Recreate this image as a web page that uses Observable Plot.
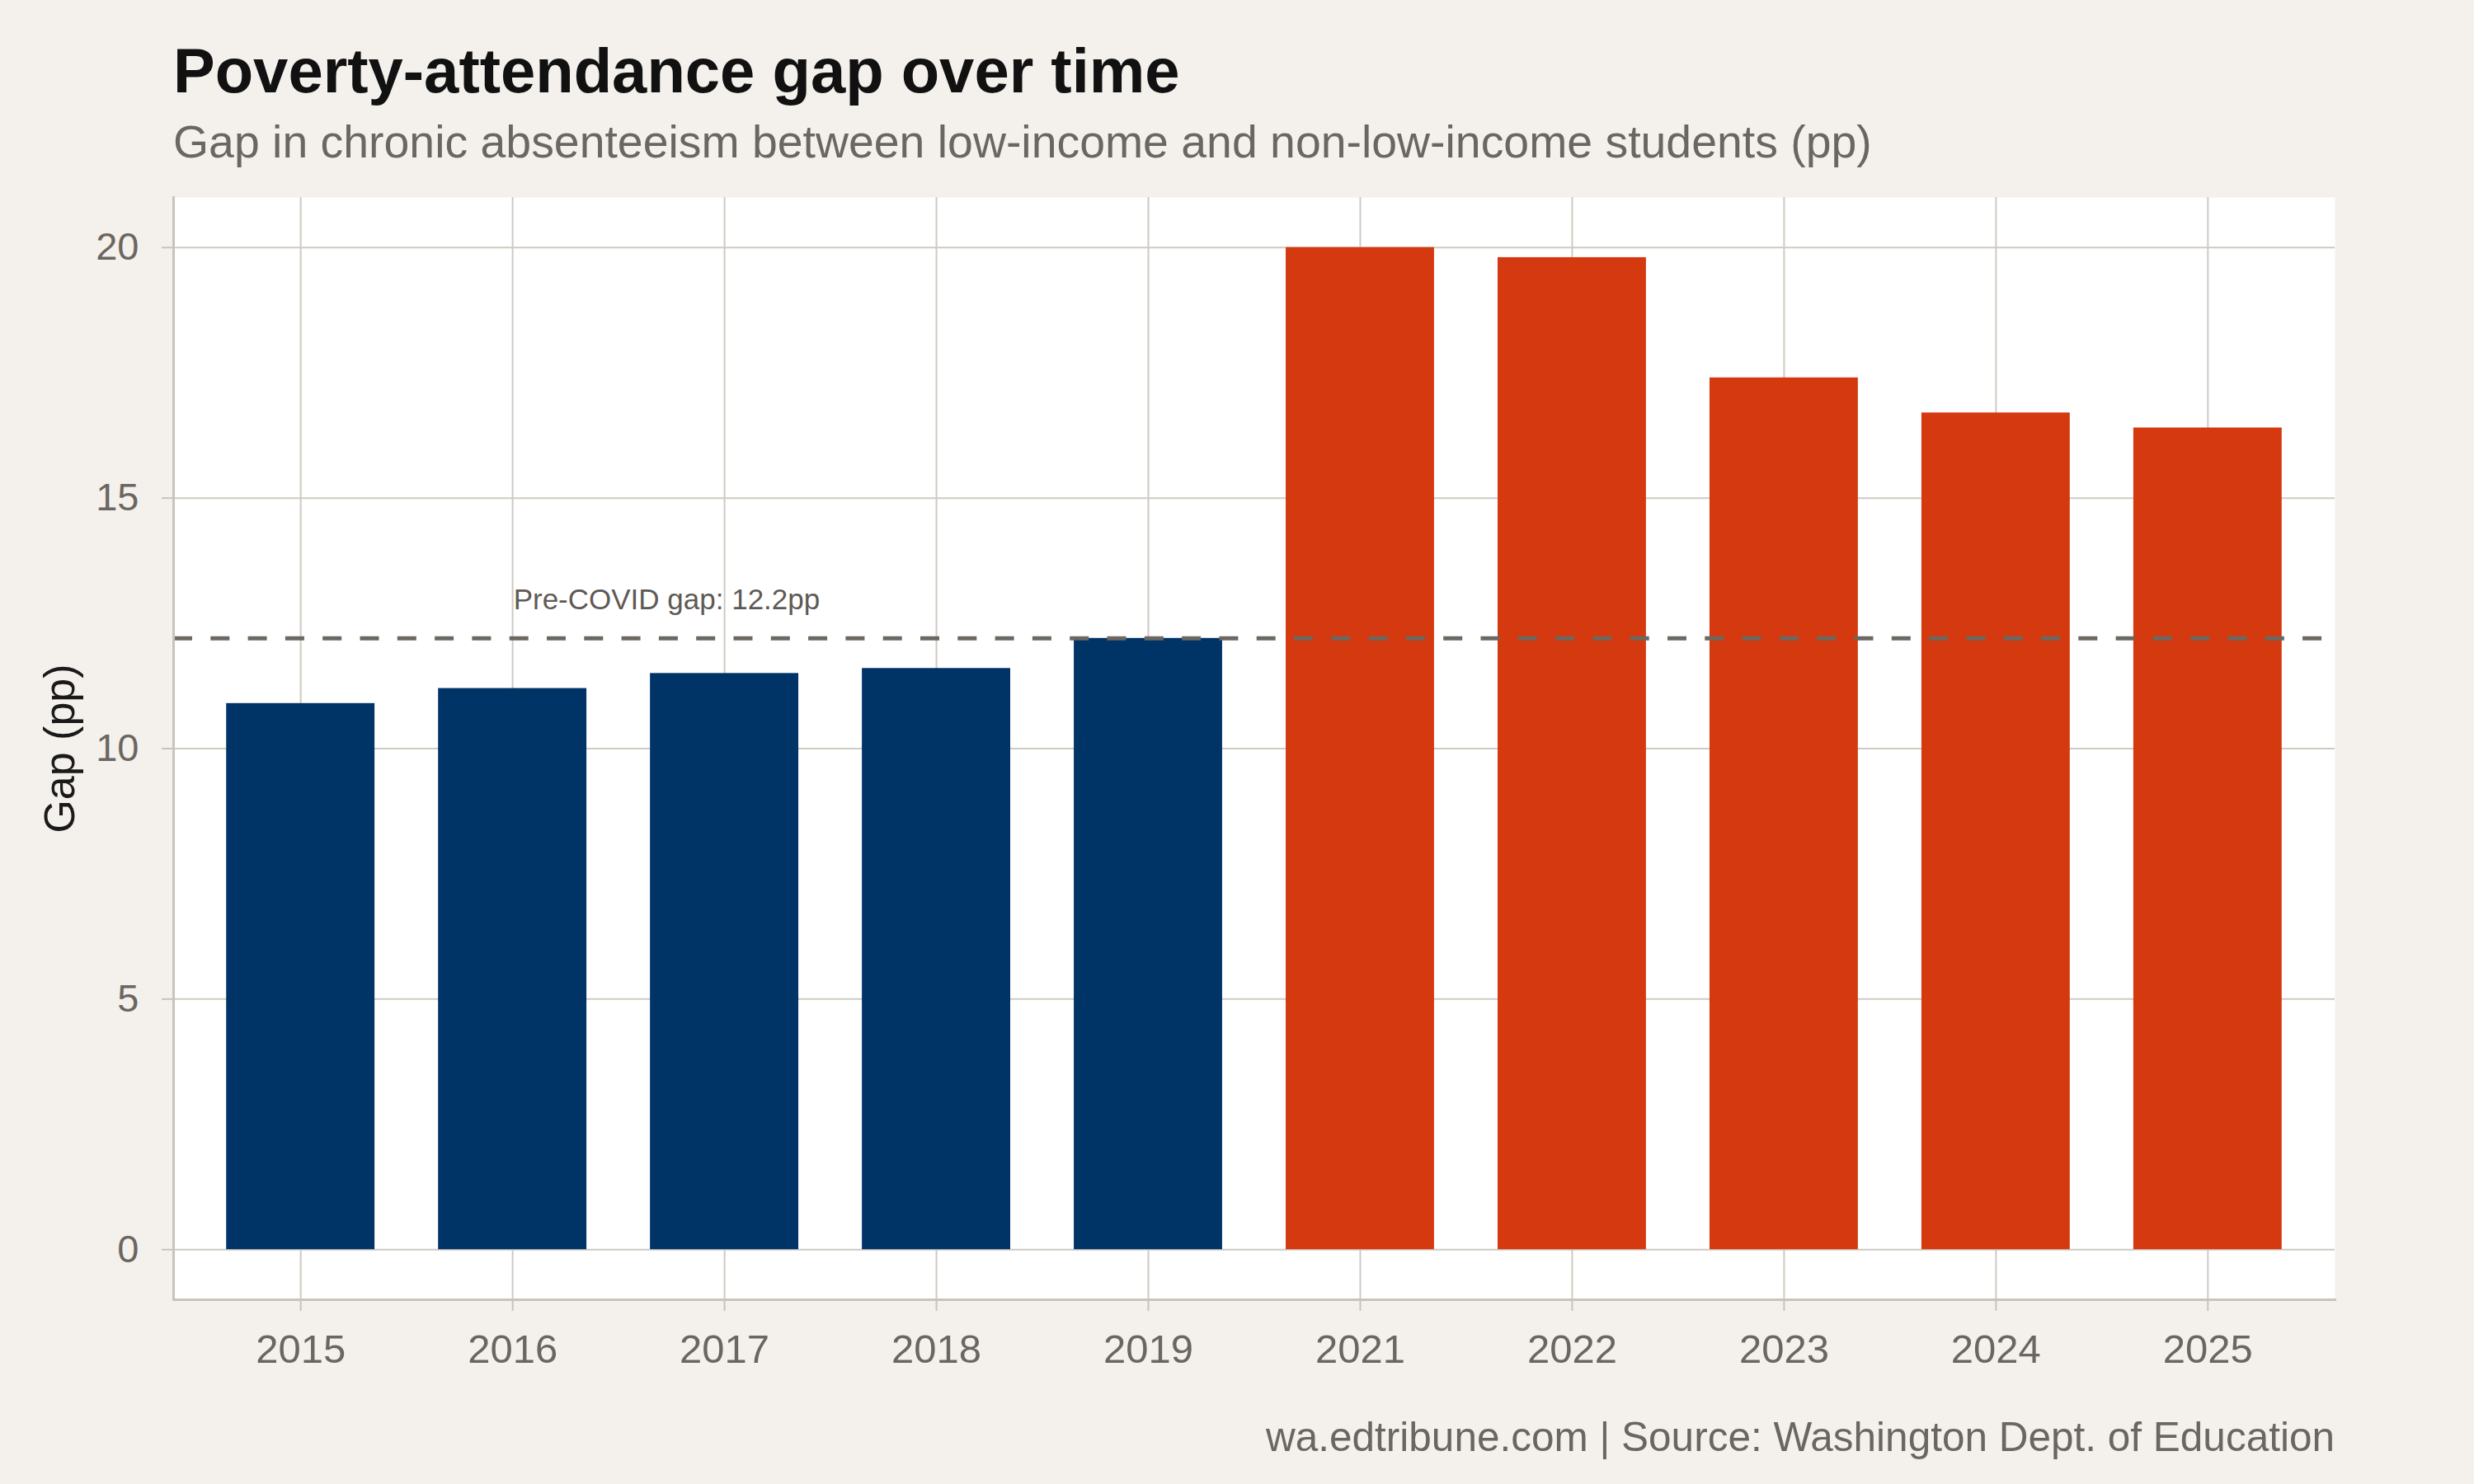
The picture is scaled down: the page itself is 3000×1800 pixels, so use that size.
<!DOCTYPE html>
<html>
<head>
<meta charset="utf-8">
<script src="https://cdn.jsdelivr.net/npm/d3@7"></script>
<script src="https://cdn.jsdelivr.net/npm/@observablehq/plot@0.6"></script>
<style>
  html, body { margin: 0; padding: 0; background: #f4f1ec; }
  #page { position: relative; width: 3000px; height: 1800px; background: #f4f1ec; font-family: "Liberation Sans", Arial, Helvetica, sans-serif; }
  .t { position: absolute; line-height: 1; white-space: nowrap; margin: 0; }
  #title { left: 210px; top: 48px; font-size: 76px; font-weight: bold; color: #111111; }
  #subtitle { left: 210px; top: 145px; font-size: 55.4px; color: #6b6661; }
  #chart { position: absolute; left: 0; top: 200px; }
  #caption { right: 169px; top: 1718px; font-size: 49.5px; color: #6b6661; }
</style>
</head>
<body>
<div id="page">
  <div id="title" class="t">Poverty-attendance gap over time</div>
  <div id="subtitle" class="t">Gap in chronic absenteeism between low-income and non-low-income students (pp)</div>
  <div id="chart"></div>
  <div id="caption" class="t">wa.edtribune.com | Source: Washington Dept. of Education</div>
</div>
<script>
// School years and the poverty gap in chronic absenteeism (percentage points)
const years = ["2015", "2016", "2017", "2018", "2019", "2021", "2022", "2023", "2024", "2025"];
const gaps = [10.9, 11.2, 11.5, 11.6, 12.2, 20.0, 19.8, 17.4, 16.7, 16.4];
const periods = ["Pre-COVID", "Pre-COVID", "Pre-COVID", "Pre-COVID", "Pre-COVID",
                 "Post-COVID", "Post-COVID", "Post-COVID", "Post-COVID", "Post-COVID"];
const preCovidGap = 12.2;
const yTicks = [0, 5, 10, 15, 20];

const data = years.map((year, i) => ({year, gap: gaps[i], period: periods[i]}));

const gridColor = "#cfcac2";
const axisColor = "#c9c3ba";
const textGray = "#6b6661";

const chart = Plot.plot({
  width: 3000,
  height: 1480,
  marginLeft: 210,
  marginRight: 169,
  marginTop: 39,
  marginBottom: 104,
  style: {
    fontFamily: "'Liberation Sans', Arial, Helvetica, sans-serif",
    background: "transparent",
    overflow: "visible"
  },
  x: {type: "band", domain: years, paddingInner: 0.3, paddingOuter: 0.25, align: 0.5, round: false, label: null},
  y: {domain: [-1, 21], label: null},
  color: {domain: ["Pre-COVID", "Post-COVID"], range: ["#003366", "#d4390f"]},
  marks: [
    // white panel
    Plot.frame({fill: "white", stroke: "none"}),
    // gridlines
    Plot.gridX({stroke: gridColor, strokeWidth: 2, strokeOpacity: 1}),
    Plot.ruleY(yTicks, {stroke: gridColor, strokeWidth: 2}),
    // bars
    Plot.barY(data, {x: "year", y: "gap", fill: "period"}),
    // pre-COVID reference line and its note
    Plot.ruleY([preCovidGap], {stroke: "#6b6761", strokeWidth: 5, strokeDasharray: "23,22.3"}),
    Plot.text([`Pre-COVID gap: ${preCovidGap}pp`], {
      x: () => "2016", y: () => preCovidGap, text: d => d,
      textAnchor: "start", dx: 1, dy: -47, fontSize: 35, fill: "#5f5a55"
    }),
    // axis lines
    Plot.frame({anchor: "left", stroke: axisColor, strokeWidth: 3}),
    Plot.frame({anchor: "bottom", stroke: axisColor, strokeWidth: 3}),
    // axes
    Plot.axisY({
      ticks: yTicks, tickSize: 14, tickPadding: 28, stroke: axisColor, strokeWidth: 2,
      fill: textGray, fontSize: 47, label: null
    }),
    Plot.axisX({
      tickSize: 14, tickPadding: 28, stroke: axisColor, strokeWidth: 2,
      fill: textGray, fontSize: 49, label: null
    }),
    // y axis title
    Plot.text(["Gap (pp)"], {
      frameAnchor: "left", text: d => d, rotate: -90, dx: -137,
      textAnchor: "middle", lineAnchor: "middle",
      fontSize: 52, fill: "#1a1a1a"
    })
  ]
});

document.getElementById("chart").appendChild(chart);
</script>
</body>
</html>
